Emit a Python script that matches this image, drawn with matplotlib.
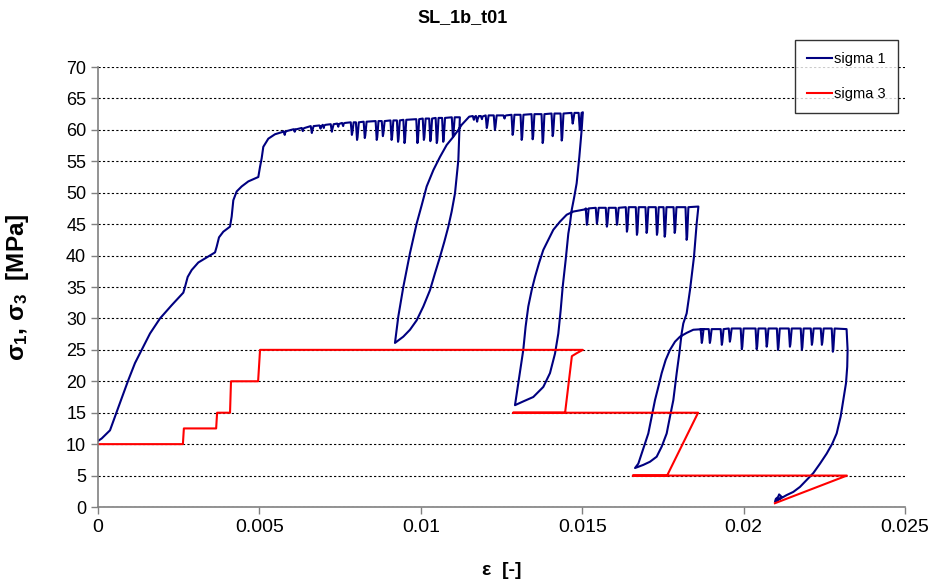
import matplotlib
matplotlib.use("Agg")
import matplotlib.pyplot as plt

plt.rcParams['font.family'] = ['Liberation Sans', 'DejaVu Sans']
plt.rcParams['mathtext.default'] = 'regular'

title = "SL_1b_t01"
x_ticks = [0, 0.005, 0.01, 0.015, 0.02, 0.025]
x_tick_labels = ["0", "0.005", "0.01", "0.015", "0.02", "0.025"]
y_ticks = [0, 5, 10, 15, 20, 25, 30, 35, 40, 45, 50, 55, 60, 65, 70]

# sigma 1 - first loading
load_eps = [0, 0.000114, 0.000372, 0.000527, 0.000733, 0.00094, 0.001146, 0.001353, 0.001611,
            0.001921, 0.002282, 0.002643, 0.002695, 0.002778, 0.002902, 0.003108, 0.003366,
            0.003625, 0.003676, 0.003749, 0.003882, 0.004089, 0.004141, 0.004192, 0.004296,
            0.004451, 0.004657, 0.004966, 0.005019, 0.005071, 0.005121, 0.005277, 0.005483, 0.00574]
load_s1 = [10.5, 10.9, 12.2, 14.4, 17.3, 20.2, 22.9, 25.0, 27.6,
           30.0, 32.1, 34.1, 35.0, 36.6, 37.7, 38.9, 39.7,
           40.5, 41.4, 42.9, 43.8, 44.6, 46.2, 48.8, 50.2,
           51.0, 51.8, 52.5, 54.1, 55.5, 57.3, 58.6, 59.3, 59.7]

# dips on the plateaus: (strain, level before the dip, bottom of the dip)
dips1 = [(0.00579, 59.8, 59.2), (0.00610, 60.1, 59.7), (0.00635, 60.3, 59.8),
         (0.00663, 60.6, 59.5), (0.00690, 60.7, 60.2), (0.00700, 60.8, 60.3),
         (0.00725, 60.9, 59.7), (0.00745, 61.0, 60.5), (0.00760, 61.1, 60.6),
         (0.00787, 61.2, 59.2), (0.00803, 61.2, 58.4), (0.00827, 61.3, 58.7),
         (0.00864, 61.4, 58.4), (0.00883, 61.4, 59.0), (0.0091, 61.5, 58.4),
         (0.0093, 61.5, 58.1), (0.0095, 61.6, 57.9), (0.0099, 61.7, 57.9),
         (0.0101, 61.8, 58.4), (0.0103, 61.8, 58.2), (0.0105, 61.9, 57.9),
         (0.0107, 61.9, 58.1), (0.0110, 62.0, 58.9)]

unload1_eps = [0.01121, 0.011163, 0.011059, 0.010956, 0.010853, 0.010729, 0.010595, 0.01044,
               0.010285, 0.010078, 0.009872, 0.009665, 0.009458, 0.009303, 0.0092]
unload1_s1 = [62.0, 55.2, 49.9, 47.0, 44.6, 42.2, 39.8, 37.2,
              34.5, 31.9, 29.7, 28.2, 27.1, 26.5, 26.1]
reload1_eps = [0.009303, 0.009458, 0.009562, 0.009665, 0.009768, 0.009872, 0.010027, 0.010182,
               0.010389, 0.010595, 0.010802, 0.011008, 0.011163, 0.011266, 0.0115]
reload1_s1 = [30.3, 35.0, 37.7, 40.4, 42.7, 45.1, 48.0, 51.0,
              53.6, 55.7, 57.6, 58.9, 60.0, 60.8, 62.1]

dips2 = [(0.01165, 62.2, 61.6), (0.01175, 62.2, 61.3), (0.01190, 62.2, 61.7),
         (0.01205, 62.3, 60.3), (0.0123, 62.3, 60.0), (0.01260, 62.3, 61.8),
         (0.01285, 62.4, 59.2), (0.01313, 62.4, 58.4), (0.01347, 62.5, 58.5),
         (0.01378, 62.5, 57.9), (0.01409, 62.6, 59.0), (0.01437, 62.6, 58.3),
         (0.01471, 62.7, 61.0), (0.01493, 62.7, 60.0)]

unload2_eps = [0.01502, 0.014983, 0.014911, 0.014828, 0.014756, 0.014673, 0.014622, 0.01457,
               0.014488, 0.014395, 0.014333, 0.01426, 0.014157, 0.014002, 0.013795, 0.013485,
               0.013175, 0.012918]
unload2_s1 = [62.8, 60.0, 55.7, 51.5, 49.4, 47.2, 45.1, 43.5,
              39.3, 35.0, 31.3, 27.6, 24.4, 21.3, 19.1, 17.5,
              16.8, 16.2]
reload2_eps = [0.013021, 0.013175, 0.013247, 0.01333, 0.013435, 0.013538, 0.013662, 0.013795,
               0.01395, 0.014105, 0.014312, 0.01452, 0.014725, 0.014932, 0.015139]
reload2_s1 = [19.7, 25.0, 28.7, 31.9, 34.5, 36.6, 38.8, 40.9,
              42.5, 44.1, 45.4, 46.5, 47.0, 47.2, 47.4]

dips3 = [(0.01515, 47.5, 44.9), (0.01546, 47.6, 45.1), (0.01577, 47.6, 44.6),
         (0.01608, 47.6, 44.9), (0.01639, 47.7, 43.8), (0.0167, 47.7, 43.3),
         (0.0170, 47.7, 43.6), (0.01732, 47.7, 43.3), (0.01756, 47.7, 43.0),
         (0.01787, 47.7, 43.6), (0.01824, 47.7, 42.5)]

unload3_eps = [0.0186, 0.01857, 0.018546, 0.018463, 0.018339, 0.018236, 0.018132, 0.01808,
               0.018008, 0.017927, 0.017875, 0.017823, 0.01772, 0.017617, 0.017462, 0.017307,
               0.0171, 0.016893, 0.016636]
unload3_s1 = [47.8, 46.2, 45.1, 39.8, 34.5, 30.8, 29.2, 27.6,
              24.4, 21.3, 19.1, 17.0, 14.4, 11.7, 9.6, 8.0,
              7.2, 6.7, 6.2]
reload3_eps = [0.016739, 0.016842, 0.016945, 0.017048, 0.017152, 0.017255, 0.017358, 0.017462,
               0.017586, 0.01772, 0.017875, 0.01803, 0.018236, 0.018442, 0.01875]
reload3_s1 = [6.9, 8.5, 10.1, 11.7, 14.4, 17.0, 19.1, 21.3,
              23.4, 25.0, 26.3, 27.1, 27.7, 28.2, 28.3]

dips4 = [(0.01871, 28.3, 26.1), (0.01896, 28.3, 26.1),
         (0.01933, 28.3, 25.8), (0.01958, 28.4, 26.3), (0.01995, 28.4, 25.1),
         (0.02041, 28.4, 25.1), (0.02072, 28.4, 25.5), (0.02107, 28.4, 25.0),
         (0.02144, 28.4, 25.5), (0.02181, 28.4, 25.0), (0.02212, 28.4, 25.8),
         (0.02243, 28.4, 25.8), (0.02277, 28.4, 24.7)]

unload4_eps = [0.02319, 0.023222, 0.02321, 0.023172, 0.023089, 0.023007, 0.022883, 0.022749,
               0.022574, 0.022367, 0.02216, 0.021953, 0.021747, 0.02154, 0.021334, 0.021127,
               0.020973, 0.0210, 0.02107, 0.0211, 0.02118, 0.02103]
unload4_s1 = [28.3, 25.0, 22.3, 19.7, 17.0, 14.4, 11.7, 10.1,
              8.5, 6.9, 5.4, 4.3, 3.2, 2.4, 1.9, 1.3,
              0.85, 1.3, 1.6, 2.0, 1.6, 1.0]

# sigma 3
s3_eps = [0, 0.00263, 0.00266, 0.00366, 0.00369, 0.00409, 0.00412, 0.00496, 0.00502,
          0.01502, 0.01484, 0.01468, 0.01447, 0.01286, 0.01859, 0.01763, 0.01657, 0.0232, 0.02097]
s3 = [10, 10, 12.5, 12.5, 15, 15, 20, 20, 25,
      25, 24.5, 24.0, 15, 15, 15, 5, 5, 5, 0.6]


def add_dips(xs, ys, dips):
    for e, top, low in dips:
        xs += [e - 0.00004, e - 0.000005, e + 0.00001, e + 0.00005]
        ys += [top, low, low + 0.4, top]


s1_eps = list(load_eps)
s1 = list(load_s1)
add_dips(s1_eps, s1, dips1)
s1_eps += unload1_eps + reload1_eps
s1 += unload1_s1 + reload1_s1
add_dips(s1_eps, s1, dips2)
s1_eps += unload2_eps + reload2_eps
s1 += unload2_s1 + reload2_s1
add_dips(s1_eps, s1, dips3)
s1_eps += unload3_eps + reload3_eps
s1 += unload3_s1 + reload3_s1
add_dips(s1_eps, s1, dips4)
s1_eps += unload4_eps
s1 += unload4_s1

fig = plt.figure(figsize=(9.31, 5.88), dpi=100)
ax = fig.add_axes([98 / 931, 81 / 588, 807 / 931, 440 / 588])

ax.plot(s1_eps, s1, color="#000080", linewidth=1.5, label="sigma 1")
ax.plot(s3_eps, s3, color="#ff0000", linewidth=1.5, label="sigma 3")

ax.set_xlim(0, 0.025)
ax.set_ylim(0, 70)
ax.set_xticks(x_ticks)
ax.set_xticklabels(x_tick_labels)
ax.set_yticks(y_ticks)
ax.tick_params(axis="x", labelsize=14, color="#808080", length=5, width=1)
ax.tick_params(axis="y", labelsize=13, color="#808080", length=5, width=1)
ax.grid(axis="y", color="black", linestyle=(0, (2, 2)), linewidth=0.8)
ax.set_axisbelow(True)
for side in ["top", "right"]:
    ax.spines[side].set_visible(False)
for side in ["left", "bottom"]:
    ax.spines[side].set_color("#808080")
    ax.spines[side].set_linewidth(1.2)

ax.set_xlabel("ε  [-]", fontsize=14, fontweight="bold")
ax.xaxis.set_label_coords(0.5, -0.125)
ax.set_ylabel("$σ_1$, $σ_3$  [MPa]", fontsize=17.5, fontweight="bold")
ax.yaxis.set_label_coords(-0.083, 0.5)

fig.text(463 / 931, 1 - 18 / 588, title, fontsize=13, fontweight="bold", ha="center", va="center")

leg = ax.legend(loc="upper left", bbox_to_anchor=(795 / 931, 1 - 40 / 588),
                bbox_transform=fig.transFigure, fontsize=10.5, frameon=True, fancybox=False,
                edgecolor="black", handlelength=1.7, handletextpad=0.15, labelspacing=1.4,
                borderpad=0.85, borderaxespad=0)
leg.get_frame().set_linewidth(1.0)

fig.savefig("out.png", dpi=100)
